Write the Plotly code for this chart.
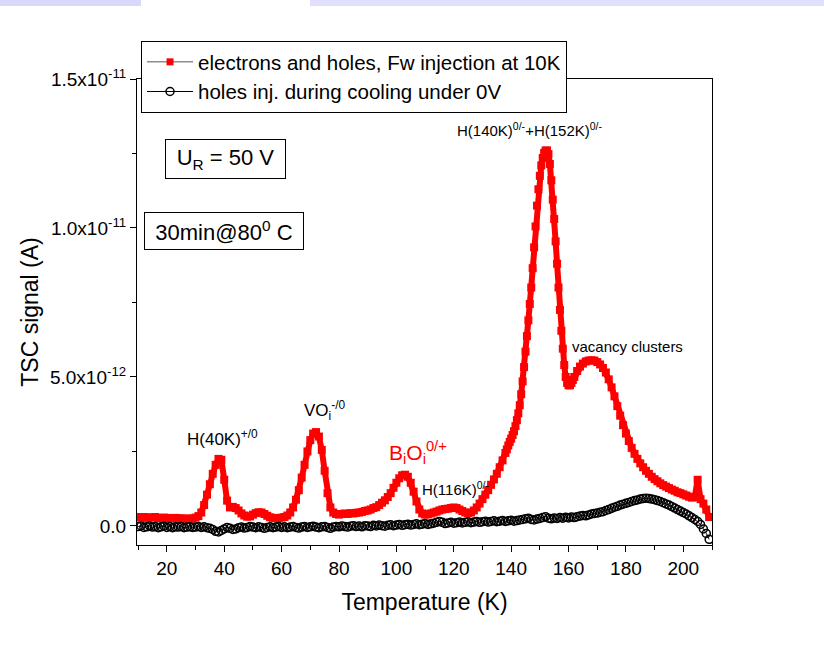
import plotly.graph_objects as go

# ---------------- data (currents in units of 1e-12 A) ----------------
T_RED = list(range(10, 138)) + [138 + 0.5 * i for i in range(49)] + list(range(163, 210))
I_RED = [
    0.30, 0.28, 0.30, 0.27, 0.29, 0.28, 0.30, 0.27, 0.26, 0.28,
    0.27, 0.26, 0.25, 0.27, 0.26, 0.25, 0.24, 0.25, 0.24, 0.25,
    0.28, 0.33, 0.45, 0.70, 1.05, 1.40, 1.75, 2.05, 2.25, 2.22,
    1.55, 0.85, 0.62, 0.64, 0.60, 0.52, 0.42, 0.35, 0.31, 0.32,
    0.38, 0.43, 0.46, 0.45, 0.40, 0.34, 0.29, 0.27, 0.26, 0.26,
    0.28, 0.30, 0.35, 0.45, 0.62, 0.88, 1.20, 1.62, 2.05, 2.50,
    2.88, 3.10, 3.15, 3.00, 2.55, 1.85, 1.10, 0.62, 0.45, 0.40,
    0.38, 0.40, 0.42, 0.40, 0.43, 0.42, 0.44, 0.45, 0.47, 0.50,
    0.52, 0.55, 0.60, 0.63, 0.70, 0.78, 0.86, 0.97, 1.10, 1.28,
    1.45, 1.60, 1.70, 1.72, 1.65, 1.45, 1.15, 0.82, 0.55, 0.42,
    0.38, 0.39, 0.42, 0.45, 0.48, 0.52, 0.55, 0.57, 0.58, 0.60,
    0.62, 0.60, 0.55, 0.50, 0.45, 0.43, 0.45, 0.52, 0.62, 0.75,
    0.90, 1.05, 1.20, 1.38, 1.56, 1.75, 1.97, 2.20,
    # 138 .. 162 in 0.5 K steps
    2.45, 2.57, 2.70, 2.82, 2.93, 3.05, 3.18, 3.35, 3.55, 3.78,
    4.05, 4.42, 4.85, 5.33, 5.85, 6.37, 6.90, 7.45, 8.00, 8.65,
    9.35, 10.05, 10.75, 11.30, 11.75, 12.10, 12.35, 12.52, 12.60, 12.60,
    12.48, 12.15, 11.60, 10.95, 10.30, 9.55, 8.80, 8.00, 7.25, 6.55,
    5.95, 5.40, 5.00, 4.80, 4.72, 4.72, 4.80, 4.90, 5.00,
    # 163 .. 209
    5.20, 5.35, 5.45, 5.52, 5.55, 5.56, 5.55,
    5.50, 5.42, 5.30, 5.15, 4.92, 4.65, 4.35, 4.02, 3.70, 3.38,
    3.10, 2.85, 2.62, 2.42, 2.25, 2.10, 1.97, 1.85, 1.75, 1.65,
    1.57, 1.50, 1.43, 1.37, 1.32, 1.27, 1.22, 1.18, 1.13, 1.10,
    1.06, 1.02, 0.98, 0.95, 0.97, 1.55, 0.90, 0.75, 0.55, 0.30,
]

T_BLK = list(range(10, 210))
I_BLK = [
    -0.02, 0.00, -0.05, -0.03, 0.00, -0.04, -0.02, -0.06, -0.03, -0.01,
    -0.05, -0.02, -0.06, -0.03, -0.04, -0.02, -0.06, -0.04, -0.03, -0.05,
    -0.04, -0.02, -0.05, -0.03, -0.06, -0.08, -0.12, -0.18, -0.20, -0.15,
    -0.10, -0.05, -0.08, -0.12, -0.10, -0.06, -0.04, -0.07, -0.05, -0.02,
    -0.04, -0.06, -0.03, -0.05, -0.08, -0.05, -0.03, -0.06, -0.04, -0.02,
    -0.05, -0.03, -0.06, -0.04, -0.02, -0.05, -0.07, -0.04, -0.02, -0.05,
    -0.03, -0.01, -0.04, -0.06, -0.03, -0.02, -0.05, -0.08, -0.04, -0.02,
    -0.03, 0.00, -0.02, -0.04, -0.01, 0.01, -0.02, 0.00, -0.03, 0.01,
    0.00, -0.02, 0.02, 0.00, 0.03, 0.01, -0.01, 0.02, 0.04, 0.01,
    0.03, 0.05, 0.02, 0.04, 0.06, 0.03, 0.05, 0.07, 0.04, 0.06,
    0.08, 0.05, 0.07, 0.09, 0.12, 0.15, 0.12, 0.08, 0.10, 0.12,
    0.09, 0.11, 0.13, 0.10, 0.12, 0.14, 0.11, 0.13, 0.15, 0.12,
    0.14, 0.16, 0.13, 0.15, 0.17, 0.14, 0.16, 0.18, 0.15, 0.17,
    0.19, 0.16, 0.18, 0.20, 0.22, 0.24, 0.26, 0.22, 0.20, 0.23,
    0.25, 0.28, 0.31, 0.26, 0.24, 0.27, 0.25, 0.28, 0.26, 0.29,
    0.27, 0.30, 0.28, 0.31, 0.33, 0.35, 0.34, 0.37, 0.40, 0.42,
    0.43, 0.46, 0.48, 0.52, 0.55, 0.59, 0.63, 0.66, 0.70, 0.73,
    0.76, 0.79, 0.82, 0.85, 0.87, 0.90, 0.92, 0.93, 0.92, 0.90,
    0.88, 0.85, 0.82, 0.78, 0.74, 0.70, 0.65, 0.60, 0.55, 0.50,
    0.45, 0.40, 0.34, 0.28, 0.22, 0.15, 0.05, -0.10, -0.25, -0.45,
]

X_TICKS = [20, 40, 60, 80, 100, 120, 140, 160, 180, 200]
Y_TICKS = [0.0, 5e-12, 1e-11, 1.5e-11]
Y_TICKTEXT = ["0.0", "5.0x10<sup>-12</sup>", "1.0x10<sup>-11</sup>", "1.5x10<sup>-11</sup>"]

LEG_RED = "electrons and holes, Fw injection at 10K"
LEG_BLK = "holes inj. during cooling under 0V"

SCALE = 1e-12
FONT = "Arial, Liberation Sans, sans-serif"

fig = go.Figure()

# red series (thick band) + legend proxy
fig.add_trace(go.Scatter(
    x=T_RED, y=[v * SCALE for v in I_RED], mode="lines+markers",
    line=dict(color="#ff0000", width=6),
    marker=dict(symbol="square", size=8, color="#ff0000", line=dict(width=0)),
    showlegend=False,
))
fig.add_trace(go.Scatter(
    x=[None], y=[None], mode="lines+markers", name=LEG_RED,
    line=dict(color="#555555", width=1),
    marker=dict(symbol="square", size=7, color="#ff0000"),
))
fig.add_trace(go.Scatter(
    x=T_BLK, y=[v * SCALE for v in I_BLK], mode="lines+markers", name=LEG_BLK,
    line=dict(color="black", width=1),
    marker=dict(symbol="circle-open", size=8, color="black", line=dict(width=1.5)),
))

def px2x(px):
    return 9.6 + (px - 137) * (210 - 9.6) / 575

def py2y(py):
    return (526 - py) / 29.8 * SCALE

annotations = [
    dict(x=px2x(225), y=py2y(159), text="U<sub>R</sub> = 50 V", font=dict(family=FONT, size=22, color="black"),
         bordercolor="black", borderwidth=1, borderpad=2, bgcolor="white", width=115, height=34, showarrow=False),
    dict(x=px2x(224), y=py2y(231), text="30min@80<sup>0</sup> C", font=dict(family=FONT, size=22, color="black"),
         bordercolor="black", borderwidth=1, borderpad=2, bgcolor="white", width=154, height=32, showarrow=False),
    dict(x=px2x(222), y=py2y(438), text="H(40K)<sup>+/0</sup>", font=dict(family=FONT, size=17, color="black"), showarrow=False),
    dict(x=px2x(324), y=py2y(411), text="VO<sub>i</sub><sup>-/0</sup>", font=dict(family=FONT, size=17, color="black"), showarrow=False),
    dict(x=px2x(418), y=py2y(453), text="B<sub>i</sub>O<sub>i</sub><sup>0/+</sup>", font=dict(family=FONT, size=21, color="#ff0000"), showarrow=False),
    dict(x=px2x(456), y=py2y(489), text="H(116K)<sup>0/-</sup>", font=dict(family=FONT, size=15, color="black"), showarrow=False),
    dict(x=px2x(530), y=py2y(130), text="H(140K)<sup>0/-</sup>+H(152K)<sup>0/-</sup>", font=dict(family=FONT, size=15, color="black"), showarrow=False),
    dict(x=px2x(627), y=py2y(347), text="vacancy clusters", font=dict(family=FONT, size=15, color="black"), showarrow=False),
]
for a in annotations:
    a["xref"] = "x"
    a["yref"] = "y"

# top decorative bars (paper coordinates)
shapes = [
    dict(type="rect", xref="paper", yref="paper", x0=-0.2383, x1=0.0070, y0=1.1567, y1=1.1700,
         fillcolor="#d9d8fb", line=dict(width=0), layer="above"),
    dict(type="rect", xref="paper", yref="paper", x0=0.3009, x1=1.1948, y0=1.1567, y1=1.1700,
         fillcolor="#e1e0fc", line=dict(width=0), layer="above"),
]

fig.update_layout(
    width=824, height=647,
    margin=dict(l=137, r=112, t=79, b=102),
    paper_bgcolor="white", plot_bgcolor="white",
    font=dict(family=FONT, size=19, color="black"),
    annotations=annotations,
    shapes=shapes,
    legend=dict(
        x=0.007, y=1.0815, xanchor="left", yanchor="top",
        bgcolor="white", bordercolor="black", borderwidth=1,
        font=dict(family=FONT, size=20.5, color="black"),
        itemwidth=46, tracegroupgap=0,
    ),
    xaxis=dict(
        range=[9.6, 210], showgrid=False, zeroline=False,
        showline=True, linecolor="black", linewidth=1, mirror=True,
        ticks="outside", ticklen=6, tickcolor="black",
        tickvals=X_TICKS, tickfont=dict(family=FONT, size=19),
        minor=dict(dtick=10, tick0=0, ticks="outside", ticklen=4, tickcolor="black"),
        title=dict(text="Temperature (K)", font=dict(family=FONT, size=23), standoff=16),
    ),
    yaxis=dict(
        range=[-0.64e-12, 15e-12], showgrid=False, zeroline=False,
        showline=True, linecolor="black", linewidth=1, mirror=True,
        ticks="outside", ticklen=6, tickcolor="black",
        tickvals=Y_TICKS, ticktext=Y_TICKTEXT, tickfont=dict(family=FONT, size=19),
        minor=dict(dtick=2.5e-12, tick0=0, ticks="outside", ticklen=4, tickcolor="black"),
        title=dict(text="TSC signal (A)", font=dict(family=FONT, size=23), standoff=4),
    ),
)

fig.write_html("out.html")
